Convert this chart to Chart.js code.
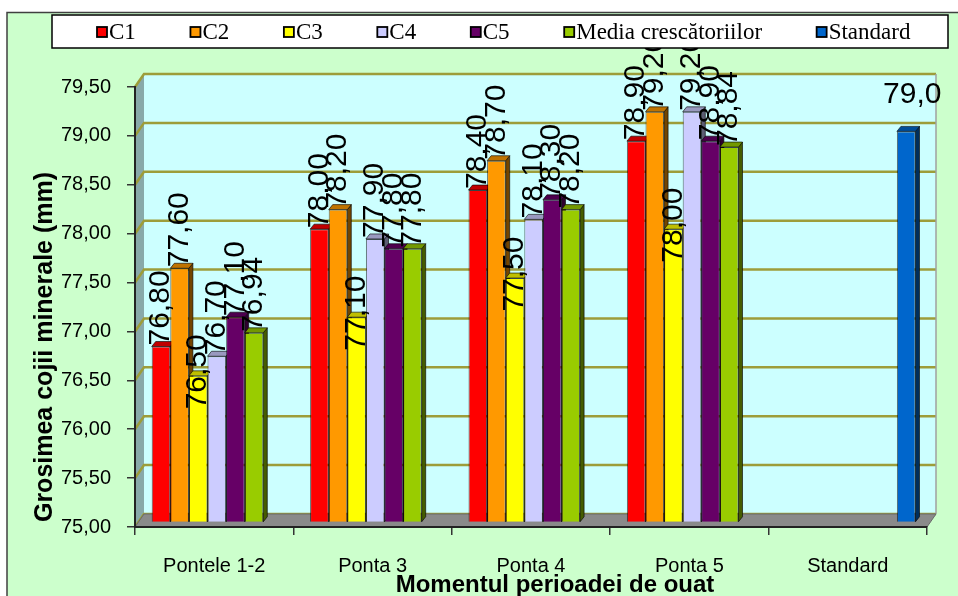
<!DOCTYPE html>
<html><head><meta charset="utf-8">
<script src="https://cdn.jsdelivr.net/npm/chart.js@4.4.1/dist/chart.umd.min.js"></script>
<style>html,body{margin:0;padding:0;background:#fff;overflow:hidden}canvas{display:block}</style>
</head><body>
<canvas id="c" width="958" height="596"></canvas>
<script>
// ---- data ----
const categories = ['Pontele 1-2', 'Ponta 3', 'Ponta 4', 'Ponta 5', 'Standard'];
const seriesNames = ['C1', 'C2', 'C3', 'C4', 'C5', 'Media crescătoriilor', 'Standard'];
const c1 = [76.80, 78.00, 78.40, 78.90, null];
const c2 = [77.60, 78.20, 78.70, 79.20, null];
const c3 = [76.50, 77.10, 77.50, 78.00, null];
const c4 = [76.70, 77.90, 78.10, 79.20, null];
const c5 = [77.10, 77.80, 78.30, 78.90, null];
const media = [76.94, 77.80, 78.20, 78.84, null];
const standard = [null, null, null, null, 79.0];
const yTickValues = [75.0, 75.5, 76.0, 76.5, 77.0, 77.5, 78.0, 78.5, 79.0, 79.5];
const yTitle = 'Grosimea cojii minerale (mm)';
const xTitle = 'Momentul perioadei de ouat';

const series = [c1, c2, c3, c4, c5, media, standard];
const colors = ['#ff0000', '#ff9900', '#ffff00', '#ccccff', '#660066', '#99cc00', '#0066cc'];

// ---- style / geometry ----
const DEPTH = {dx: 9, dy: -13};
const BAR_SHIFT = {dx: 2.6, dy: -4.5};
const BAR_DEPTH = {dx: 4, dy: -5};
const SANS = '"Liberation Sans", Arial, sans-serif';
const SERIF = '"Liberation Serif", "Times New Roman", serif';

function shade(hex, f) {
  const n = parseInt(hex.slice(1), 16);
  const r = Math.round(((n >> 16) & 255) * f), g = Math.round(((n >> 8) & 255) * f), b = Math.round((n & 255) * f);
  return 'rgb(' + r + ',' + g + ',' + b + ')';
}
const fmt = (v, d) => v.toFixed(d).replace('.', ',');

function poly(ctx, pts, fill, stroke, lw) {
  ctx.beginPath();
  ctx.moveTo(pts[0][0], pts[0][1]);
  for (let k = 1; k < pts.length; k++) ctx.lineTo(pts[k][0], pts[k][1]);
  ctx.closePath();
  if (fill) { ctx.fillStyle = fill; ctx.fill(); }
  if (stroke) { ctx.strokeStyle = stroke; ctx.lineWidth = lw || 1; ctx.stroke(); }
}

const backgroundPlugin = {
  id: 'bg3d',
  beforeDraw(chart) {
    const ctx = chart.ctx, xs = chart.scales.x, ys = chart.scales.y;
    const L = xs.left, R = xs.right, T = ys.top, B = ys.bottom, dx = DEPTH.dx, dy = DEPTH.dy;
    ctx.save();
    ctx.fillStyle = '#ffffff'; ctx.fillRect(0, 0, 958, 596);
    ctx.fillStyle = '#ccffcc'; ctx.fillRect(7, 12, 951, 584);
    ctx.strokeStyle = '#404040'; ctx.lineWidth = 1.5;
    ctx.beginPath(); ctx.moveTo(7, 596); ctx.lineTo(7, 12.5); ctx.lineTo(958, 12.5); ctx.stroke();
    // back wall
    ctx.fillStyle = '#ccffff'; ctx.fillRect(L + dx, T + dy, R - L, B - T);
    // side wall
    poly(ctx, [[L, T], [L + dx, T + dy], [L + dx, B + dy], [L, B]], '#88a9a9');
    // gridlines
    ctx.strokeStyle = '#9d9d3a'; ctx.lineWidth = 2.5;
    yTickValues.forEach(v => {
      const py = ys.getPixelForValue(v);
      ctx.beginPath(); ctx.moveTo(L, py); ctx.lineTo(L + dx, py + dy); ctx.lineTo(R + dx, py + dy); ctx.stroke();
    });
    // right edge of back wall
    ctx.strokeStyle = '#a0a0a0'; ctx.lineWidth = 1.5;
    ctx.beginPath(); ctx.moveTo(R + dx, T + dy); ctx.lineTo(R + dx, B + dy); ctx.stroke();
    // floor
    poly(ctx, [[L, B], [L + dx, B + dy], [R + dx, B + dy], [R, B]], '#8a8a8a', '#6a6a6a', 1);
    ctx.restore();
  }
};

const bar3dPlugin = {
  id: 'bar3d',
  beforeDatasetsDraw(chart) {
    // side and top faces of every bar, left to right; the front faces are drawn over them by Chart.js
    const ctx = chart.ctx, ddx = BAR_DEPTH.dx, ddy = BAR_DEPTH.dy;
    ctx.save();
    ctx.translate(BAR_SHIFT.dx, BAR_SHIFT.dy);
    categories.forEach((_, j) => {
      series.forEach((data, i) => {
        if (data[j] == null) return;
        const el = chart.getDatasetMeta(i).data[j];
        const p = el.getProps(['x', 'y', 'base', 'width'], true);
        const l = p.x - p.width / 2, r = p.x + p.width / 2;
        const col = colors[i];
        poly(ctx, [[r, p.y], [r + ddx, p.y + ddy], [r + ddx, p.base + ddy], [r, p.base]], shade(col, 0.45), 'rgba(0,0,0,0.6)', 1);
        poly(ctx, [[l, p.y], [l + ddx, p.y + ddy], [r + ddx, p.y + ddy], [r, p.y]], shade(col, 0.75), 'rgba(0,0,0,0.6)', 1);
      });
    });
    ctx.restore();
  },
  beforeDatasetDraw(chart) {
    chart.ctx.save();
    chart.ctx.translate(BAR_SHIFT.dx, BAR_SHIFT.dy);
  },
  afterDatasetDraw(chart) {
    chart.ctx.restore();
  },
  afterDatasetsDraw(chart) {
    const ctx = chart.ctx;
    ctx.save();
    ctx.fillStyle = '#000';
    ctx.font = '30px ' + SANS;
    series.forEach((data, i) => {
      const meta = chart.getDatasetMeta(i);
      data.forEach((v, j) => {
        if (v == null) return;
        const el = meta.data[j];
        const px = el.x + BAR_SHIFT.dx, py = el.y + BAR_SHIFT.dy;
        if (i === 6) {
          ctx.textAlign = 'center'; ctx.textBaseline = 'middle';
          ctx.fillText(fmt(v, 1), px + 6, py - 37);
        } else {
          ctx.save();
          ctx.translate(px, py);
          ctx.rotate(-Math.PI / 2);
          ctx.textBaseline = 'middle';
          if (i === 2) { ctx.textAlign = 'center'; ctx.fillText(fmt(v, 2), 4, 0); }
          else { ctx.textAlign = 'left'; ctx.fillText(fmt(v, 2), 1, 0); }
          ctx.restore();
        }
      });
    });
    ctx.restore();
  },
  afterDraw(chart) {
    const ctx = chart.ctx;
    ctx.save();
    ctx.fillStyle = '#000';
    ctx.font = 'bold 25px ' + SANS;
    ctx.textAlign = 'center'; ctx.textBaseline = 'middle';
    ctx.translate(45, 347); ctx.rotate(-Math.PI / 2); ctx.fillText(yTitle, 0, 0);
    ctx.setTransform(1, 0, 0, 1, 0, 0);
    ctx.font = 'bold 24px ' + SANS;
    ctx.textBaseline = 'alphabetic';
    ctx.fillText(xTitle, 555, 592);
    // legend
    ctx.fillStyle = '#fff'; ctx.fillRect(52, 15, 896, 33);
    ctx.strokeStyle = '#000'; ctx.lineWidth = 1.5; ctx.strokeRect(52, 15, 896, 33);
    ctx.font = '23px ' + SERIF;
    ctx.textAlign = 'left'; ctx.textBaseline = 'middle';
    let x = 97;
    seriesNames.forEach((name, i) => {
      ctx.fillStyle = colors[i]; ctx.fillRect(x, 27, 10, 10);
      ctx.strokeStyle = '#000'; ctx.lineWidth = 1.8; ctx.strokeRect(x, 27, 10, 10);
      ctx.fillStyle = '#000'; ctx.fillText(name, x + 12, 32.5);
      x += 12 + ctx.measureText(name).width + 54.6;
    });
    ctx.restore();
  }
};

new Chart(document.getElementById('c'), {
  type: 'bar',
  data: {
    labels: categories,
    datasets: series.map((d, i) => ({
      label: seriesNames[i], data: d, backgroundColor: colors[i],
      borderColor: 'rgba(0,0,0,0.6)', borderWidth: 1, base: 75,
      categoryPercentage: 0.822, barPercentage: 1
    }))
  },
  options: {
    responsive: false, animation: false, devicePixelRatio: 1,
    layout: {padding: {top: 87, right: 31, left: 0, bottom: 0}},
    plugins: {legend: {display: false}, tooltip: {enabled: false}, title: {display: false}},
    scales: {
      x: {
        offset: true,
        grid: {offset: true, drawOnChartArea: false, drawTicks: true, tickLength: 8, color: '#333', lineWidth: 1.5},
        border: {display: true, color: '#222', width: 2},
        ticks: {font: {family: SANS, size: 20}, color: '#000', padding: 19, maxRotation: 0},
        afterFit(s) { s.height = 69; }
      },
      y: {
        min: 75, max: 79.5,
        grid: {drawOnChartArea: false, drawTicks: true, tickLength: 8, color: '#333', lineWidth: 1.5},
        border: {display: true, color: '#222', width: 2},
        ticks: {font: {family: SANS, size: 20}, color: '#000', padding: 16, callback: v => fmt(v, 2)},
        afterBuildTicks(s) { s.ticks = yTickValues.map(v => ({value: v})); },
        afterFit(s) { s.width = 135; }
      }
    }
  },
  plugins: [backgroundPlugin, bar3dPlugin]
});
</script>
</body></html>
